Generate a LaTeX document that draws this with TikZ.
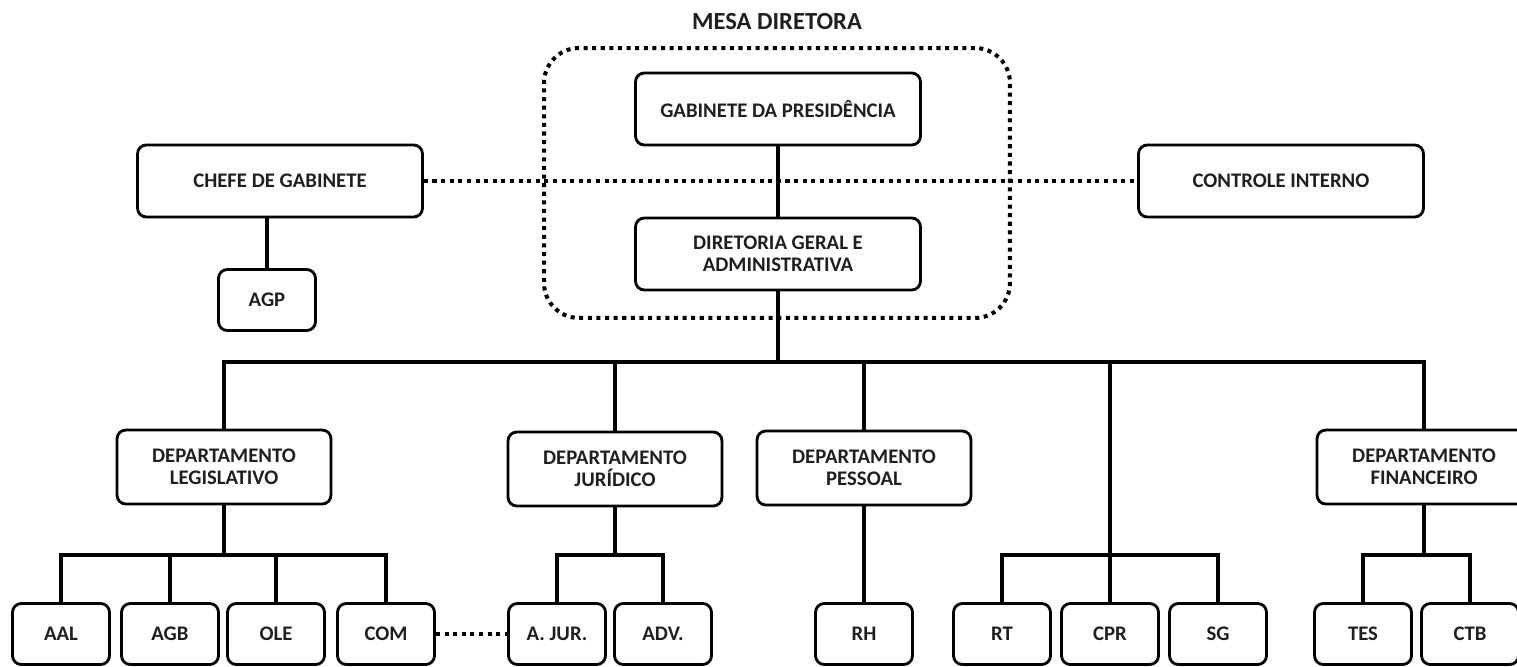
\documentclass[tikz,border=0pt]{standalone}
\usepackage{fontspec}
\setmainfont{Carlito}
\usetikzlibrary{positioning}

\begin{document}
\begin{tikzpicture}[x=0.02cm,y=-0.02cm,
		box/.style={draw, line width=1.6pt, rounded corners=5pt, align=center, inner sep=2pt,
			text=black!88, font=\fontsize{11.8}{12.8}\selectfont\bfseries},
		bigbox/.style={box, minimum width=5.7cm, minimum height=1.44cm},
		dept/.style={box, minimum width=4.28cm, minimum height=1.48cm},
		small/.style={box, minimum width=1.94cm, minimum height=1.22cm},
		link/.style={line width=2.3pt},
		dots/.style={line width=2.3pt, dash pattern=on 2.3pt off 2.6pt}]
		\useasboundingbox (0,0) rectangle (1517,666);
		
		% mesa diretora
		\node[dots, draw, rounded corners=0.7cm, minimum width=9.32cm, minimum height=5.4cm] (mesa) at (777,183) {};
		\node[above=6pt of mesa, text=black!88, font=\fontsize{14}{16}\selectfont\bfseries] (mesatitle) {MESA DIRETORA};
		\node[bigbox] (gab) at (778,109) {GABINETE DA PRESIDÊNCIA};
		\node[bigbox] (dg) at (778,254) {DIRETORIA GERAL E\\ADMINISTRATIVA};
		\node[bigbox] (chefe) at (280,181) {CHEFE DE GABINETE};
		\node[bigbox] (ctrl) at (1281,181) {CONTROLE INTERNO};
		\node[small] (agp) at (267,300) {AGP};
		
		% departamentos
		\node[dept] (leg) at (224,467) {DEPARTAMENTO\\LEGISLATIVO};
		\node[dept] (jur) at (615,469) {DEPARTAMENTO\\JURÍDICO};
		\node[dept] (pes) at (864,468) {DEPARTAMENTO\\PESSOAL};
		\node[dept] (fin) at (1424,467) {DEPARTAMENTO\\FINANCEIRO};
		
		% setores
		\node[small] (aal) at (61,634) {AAL};
		\node[small] (agb) at (170,634) {AGB};
		\node[small] (ole) at (276,634) {OLE};
		\node[small] (com) at (386,634) {COM};
		\node[small] (ajur) at (557,634) {A. JUR.};
		\node[small] (adv) at (663,634) {ADV.};
		\node[small] (rh) at (864,634) {RH};
		\node[small] (rt) at (1002,634) {RT};
		\node[small] (cpr) at (1110,634) {CPR};
		\node[small] (sg) at (1218,634) {SG};
		\node[small] (tes) at (1363,634) {TES};
		\node[small] (ctb) at (1470,634) {CTB};
		
		\coordinate (bus) at (0,362);
		\coordinate (sub) at (0,555);
		
		\draw[link] (gab) -- (dg);
		\draw[link] (agp.north) -- (agp.north |- chefe.south);
		\draw[dots] (chefe) -- (ctrl);
		\draw[link] (dg.south) -- (dg.south |- bus);
		\draw[link] (leg.north) -- (leg.north |- bus) -- (fin.north |- bus) -- (fin.north);
		\draw[link] (jur.north) -- (jur.north |- bus);
		\draw[link] (pes.north) -- (pes.north |- bus);
		\draw[link] (cpr.north) -- (cpr.north |- bus);
		
		\draw[link] (leg.south) -- (leg.south |- sub);
		\draw[link] (aal.north) -- (aal.north |- sub) -- (com.north |- sub) -- (com.north);
		\draw[link] (agb.north) -- (agb.north |- sub);
		\draw[link] (ole.north) -- (ole.north |- sub);
		\draw[link] (jur.south) -- (jur.south |- sub);
		\draw[link] (ajur.north) -- (ajur.north |- sub) -- (adv.north |- sub) -- (adv.north);
		\draw[link] (pes) -- (rh);
		\draw[link] (rt.north) -- (rt.north |- sub) -- (sg.north |- sub) -- (sg.north);
		\draw[link] (fin.south) -- (fin.south |- sub);
		\draw[link] (tes.north) -- (tes.north |- sub) -- (ctb.north |- sub) -- (ctb.north);
		\draw[dots] (com) -- (ajur);
\end{tikzpicture}
\end{document}
